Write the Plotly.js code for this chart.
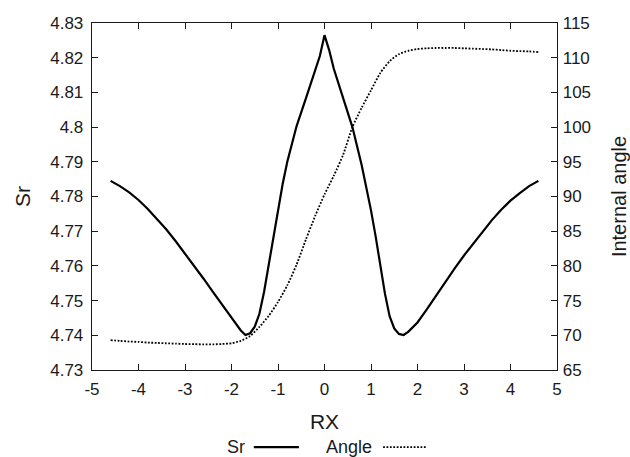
<!DOCTYPE html>
<html>
<head>
<meta charset="utf-8">
<script src="https://cdn.plot.ly/plotly-3.0.1.min.js"></script>
<style>
  html, body { margin: 0; padding: 0; background: #fff; }
  #chart { width: 630px; height: 457px; }
</style>
</head>
<body>
<div id="chart"></div>
<script>
// Sr against RX (left axis)
const rxSr = [-4.6,-4.4,-4.2,-4.0,-3.8,-3.6,-3.4,-3.2,-3.0,-2.8,-2.6,-2.4,-2.2,-2.0,-1.9,-1.8,-1.7,-1.6,-1.5,-1.4,-1.3,-1.2,-1.1,-1.0,-0.9,-0.8,-0.6,-0.4,-0.2,-0.1,0,0.1,0.2,0.4,0.6,0.8,0.9,1.0,1.1,1.2,1.3,1.4,1.5,1.6,1.7,1.8,1.9,2.0,2.2,2.4,2.6,2.8,3.0,3.2,3.4,3.6,3.8,4.0,4.2,4.4,4.6];
const sr = [4.7845,4.7830,4.7812,4.7790,4.7764,4.7736,4.7705,4.7671,4.7636,4.7600,4.7563,4.7525,4.7487,4.7450,4.7432,4.7414,4.7401,4.7406,4.7425,4.7462,4.7525,4.7605,4.7682,4.7760,4.7836,4.7900,4.8003,4.8083,4.8160,4.8205,4.8265,4.8222,4.8168,4.8085,4.8000,4.7890,4.7828,4.7760,4.7685,4.7600,4.7520,4.7455,4.7420,4.7404,4.7401,4.7410,4.7423,4.7437,4.7475,4.7515,4.7555,4.7593,4.7630,4.7665,4.7700,4.7732,4.7762,4.7788,4.7810,4.7830,4.7845];

// Internal angle against RX (right axis)
const rxAngle = [-4.6,-4.4,-4.2,-4.0,-3.8,-3.6,-3.4,-3.2,-3.0,-2.8,-2.6,-2.4,-2.2,-2.0,-1.8,-1.6,-1.4,-1.2,-1.0,-0.8,-0.6,-0.4,-0.2,0,0.2,0.4,0.6,0.8,1.0,1.2,1.4,1.6,1.8,2.0,2.2,2.4,2.6,2.8,3.0,3.2,3.4,3.6,3.8,4.0,4.2,4.4,4.6];
const angle = [69.3,69.2,69.1,69.05,68.95,68.9,68.85,68.8,68.75,68.72,68.7,68.7,68.75,68.85,69.2,69.9,71.2,72.8,74.8,77.2,80.2,83.8,87.2,90.3,93.0,96.0,100.0,102.8,105.3,107.8,109.5,110.5,111.0,111.25,111.35,111.4,111.4,111.4,111.35,111.3,111.25,111.2,111.1,111.0,110.95,110.9,110.8];

// Tick positions and labels
const xTicks = [-5,-4,-3,-2,-1,0,1,2,3,4,5];
const xTickText = ["-5","-4","-3","-2","-1","0","1","2","3","4","5"];
const srTicks = [4.73,4.74,4.75,4.76,4.77,4.78,4.79,4.8,4.81,4.82,4.83];
const srTickText = ["4.73","4.74","4.75","4.76","4.77","4.78","4.79","4.8","4.81","4.82","4.83"];
const angleTicks = [65,70,75,80,85,90,95,100,105,110,115];
const angleTickText = ["65","70","75","80","85","90","95","100","105","110","115"];

const legendNames = ["Sr", "Angle"];

const FONT = "Liberation Sans, Arial, Helvetica, sans-serif";
const INK = "#1a1a1a";

const traces = [
  {
    x: rxSr, y: sr, name: legendNames[0], type: "scatter", mode: "lines",
    line: { color: "#000", width: 2.2 }, yaxis: "y", showlegend: false
  },
  {
    x: rxAngle, y: angle, name: legendNames[1], type: "scatter", mode: "lines",
    line: { color: "#000", width: 1.8, dash: "1.8px,1.6px", shape: "spline", smoothing: 0.6 },
    yaxis: "y2", showlegend: false
  }
];

const axisCommon = {
  showgrid: false, zeroline: false, showline: true,
  linecolor: INK, linewidth: 1.3,
  ticks: "inside", ticklen: 6, tickwidth: 1, tickcolor: INK,
  tickmode: "array",
  tickfont: { family: FONT, size: 17, color: INK }
};

const layout = {
  width: 630, height: 457,
  margin: { l: 92, r: 73, t: 23, b: 87 },
  paper_bgcolor: "#fff", plot_bgcolor: "#fff",
  font: { family: FONT, color: INK },
  showlegend: false,
  xaxis: Object.assign({}, axisCommon, {
    range: [-5, 5], tickvals: xTicks, ticktext: xTickText, mirror: "ticks",
    ticklabelstandoff: 3,
    title: { text: "RX", font: { family: FONT, size: 21, color: INK }, standoff: 16 }
  }),
  yaxis: Object.assign({}, axisCommon, {
    range: [4.73, 4.83], tickvals: srTicks, ticktext: srTickText,
    ticklabelstandoff: 4,
    title: { text: "Sr", font: { family: FONT, size: 21, color: INK }, standoff: 14 }
  }),
  yaxis2: Object.assign({}, axisCommon, {
    range: [65, 115], tickvals: angleTicks, ticktext: angleTickText,
    overlaying: "y", side: "right", ticklabelstandoff: 1,
    title: { text: "Internal angle", font: { family: FONT, size: 20, color: INK }, standoff: 22 }
  }),
  // Legend below the axis: name on the left, line sample on the right
  annotations: [
    { xref: "paper", yref: "paper", x: 0.334, y: -0.222, xanchor: "right", yanchor: "middle",
      text: legendNames[0], showarrow: false, font: { family: FONT, size: 18, color: INK } },
    { xref: "paper", yref: "paper", x: 0.498, y: -0.222, xanchor: "left", yanchor: "middle",
      text: legendNames[1], showarrow: false, font: { family: FONT, size: 18, color: INK } }
  ],
  shapes: [
    { type: "line", xref: "paper", yref: "paper", x0: 0.348, x1: 0.445, y0: -0.222, y1: -0.222,
      line: { color: "#000", width: 2.2 } },
    { type: "line", xref: "paper", yref: "paper", x0: 0.626, x1: 0.720, y0: -0.222, y1: -0.222,
      line: { color: "#000", width: 1.8, dash: "1.8px,1.6px" } }
  ]
};

Plotly.newPlot("chart", traces, layout, { staticPlot: true, displayModeBar: false });
</script>
</body>
</html>
